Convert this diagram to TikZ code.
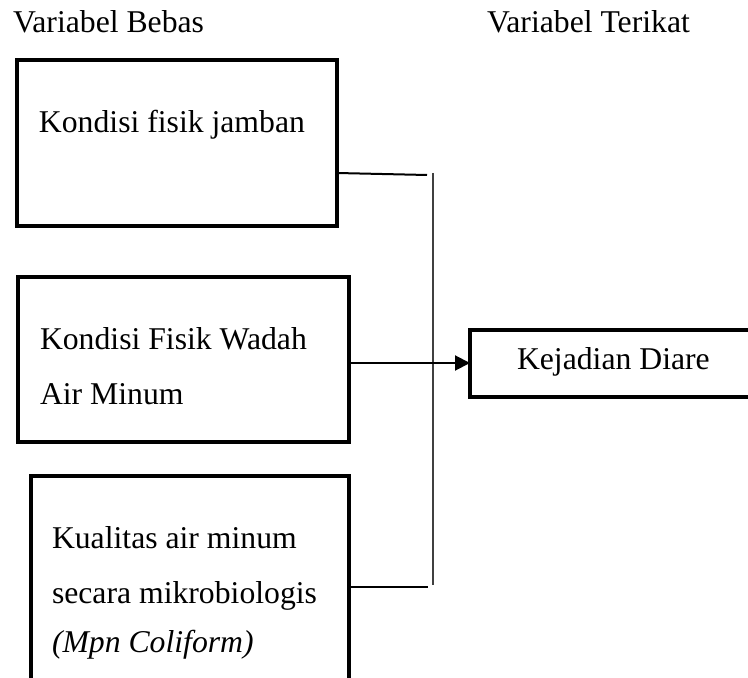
\documentclass[tikz,border=0pt]{standalone}
\usepackage{fontspec}
\setmainfont{Liberation Serif}
\usetikzlibrary{arrows.meta}
\begin{document}
\begin{tikzpicture}[x=0.5pt,y=-0.5pt,
  box/.style={draw=black,line width=2pt,inner sep=0pt,outer sep=0pt},
  txt/.style={anchor=base west,inner sep=0pt,outer sep=0pt,font=\fontsize{15.85}{19}\selectfont},
  conn/.style={draw=black,line width=1pt},
  thin/.style={draw=black!75,line width=0.55pt}]
\useasboundingbox (0,0) rectangle (748,678);
\clip (0,0) rectangle (748,678);
% titles
\node[txt] (tb) at (13,33) {Variabel Bebas};
\node[txt] (tt) at (487,33) {Variabel Terikat};
% boxes
\node[box,minimum width=160pt,minimum height=83pt] (b1) at (177,143) {};
\node[box,minimum width=165.5pt,minimum height=82.5pt] (b2) at (183.5,359.5) {};
\node[box,minimum width=159pt,minimum height=107pt] (b3) at (190,583) {};
\node[box,minimum width=150pt,minimum height=33.5pt] (y) at (620,363) {};
% texts
\node[txt] (t1) at (39,133) {Kondisi fisik jamban};
\node[txt] (t2a) at (40,349) {Kondisi Fisik Wadah};
\node[txt] (t2b) at (40,404) {Air Minum};
\node[txt] (t3a) at (52,548) {Kualitas air minum};
\node[txt] (t3b) at (52,603) {secara mikrobiologis};
\node[txt] (t3c) at (52,652) {\itshape (Mpn Coliform)};
\node[txt] (ty) at (517,369) {Kejadian Diare};
% connectors
\coordinate (c1) at (427,175);
\coordinate (vt) at (433,173);
\coordinate (vb) at (433,585);
\coordinate (c3) at (428,587);
\draw[conn] (b1.east |- 0,173) -- (c1);
\draw[thin] (vt) -- (vb);
\draw[conn] (b3.east |- c3) -- (c3);
\draw[conn,-{Triangle[length=7.5pt,width=7.5pt]}] (b2.east |- y.west) -- (y.west);
\end{tikzpicture}
\end{document}
